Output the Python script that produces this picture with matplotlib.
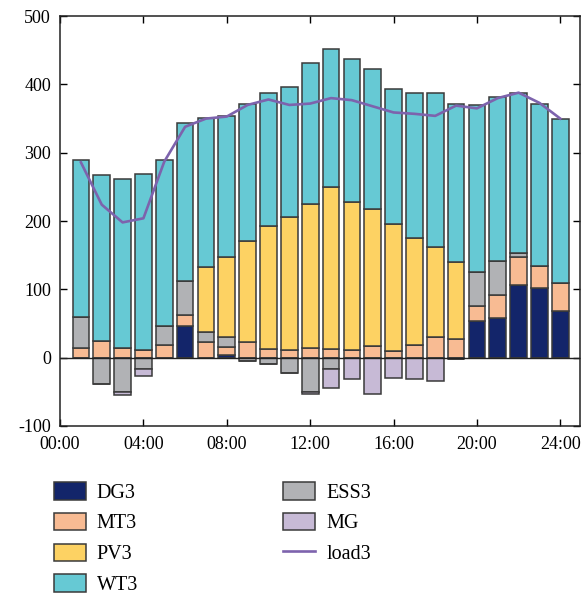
import matplotlib
matplotlib.use("Agg")
import matplotlib.pyplot as plt
import numpy as np

plt.rcParams['font.family'] = ['Liberation Serif', 'DejaVu Serif']
plt.rcParams['axes.unicode_minus'] = False

# hourly dispatch of microgrid 3 (kW)
hours = np.arange(1, 25)
DG3 = [0, 0, 0, 0, 0, 46, 0, 4, 0, 0, 0, 0, 0, 0, 0, 0, 0, 0, 0, 53, 58, 107, 102, 68]
MT3 = [14, 24, 14, 11, 19, 16, 23, 12, 23, 12, 11, 14, 13, 11, 17, 10, 19, 30, 27, 22, 33, 41, 32, 41]
ESS3 = [45, -38, -50, -16, 27, 50, 14, 14, -5, -10, -23, -50, -17, 0, 0, 0, 0, 0, -2, 50, 50, 5, 0, 0]
PV3 = [0, 0, 0, 0, 0, 0, 96, 118, 148, 180, 195, 211, 237, 217, 201, 185, 156, 132, 113, 0, 0, 0, 0, 0]
WT3 = [231, 243, 248, 258, 243, 231, 218, 206, 201, 196, 190, 207, 202, 209, 204, 199, 212, 225, 231, 245, 240, 234, 238, 240]
MG = [0, 0, -5, -11, 0, 0, 0, 0, 0, 0, 0, -4, -28, -32, -54, -30, -32, -34, 0, 0, 0, 0, 0, 0]
load3 = [286, 224, 198, 204, 287, 338, 350, 353, 370, 378, 370, 372, 380, 377, 368, 359, 357, 354, 369, 365, 380, 388, 373, 350]

tick_pos = [0, 4, 8, 12, 16, 20, 24]
tick_lab = ['00:00', '04:00', '08:00', '12:00', '16:00', '20:00', '24:00']

colors = {'DG3': '#13256a', 'MT3': '#f8bb93', 'PV3': '#fdd263', 'WT3': '#66c9d4',
          'ESS3': '#b1b2b5', 'MG': '#c7bad6'}

dg = np.array(DG3, float)
mt = np.array(MT3, float)
ess = np.array(ESS3, float)
pv = np.array(PV3, float)
wt = np.array(WT3, float)
mg = np.array(MG, float)

ess_pos = np.clip(ess, 0, None)
ess_neg = np.clip(ess, None, 0)

fig = plt.figure(figsize=(5.83, 5.99), dpi=100)
ax = fig.add_axes([0.103, 0.289, 0.892, 0.684])

w = 0.8
kw = dict(width=w, edgecolor='#3a3a3a', linewidth=1.1, zorder=2)
h_dg = ax.bar(hours, dg, color=colors['DG3'], label='DG3', **kw)
h_mt = ax.bar(hours, mt, bottom=dg, color=colors['MT3'], label='MT3', **kw)
h_ess = ax.bar(hours, ess, bottom=np.where(ess >= 0, dg + mt, 0), color=colors['ESS3'], label='ESS3', **kw)
h_pv = ax.bar(hours, pv, bottom=dg + mt + ess_pos, color=colors['PV3'], label='PV3', **kw)
h_wt = ax.bar(hours, wt, bottom=dg + mt + ess_pos + pv, color=colors['WT3'], label='WT3', **kw)
h_mg = ax.bar(hours, mg, bottom=ess_neg, color=colors['MG'], label='MG', **kw)
h_load, = ax.plot(hours, load3, color='#7d63ad', linewidth=1.9, zorder=4, label='load3')
ax.axhline(0, color='#222222', linewidth=1.0, zorder=3)

ax.set_xlim(0, 24.95)
ax.set_ylim(-100, 500)
ax.set_xticks(tick_pos)
ax.set_xticklabels(tick_lab)
ax.set_yticks(np.arange(-100, 501, 100))
ax.tick_params(direction='in', top=True, right=True, length=5, width=1, labelsize=13)
ax.tick_params(axis='x', pad=7.5)
ax.tick_params(axis='y', pad=6.5)
for s in ax.spines.values():
    s.set_color('#222222')
    s.set_linewidth(1.1)

handles = [h_dg, h_mt, h_pv, h_wt, h_ess, h_mg, h_load]
fig.legend(handles=handles, labels=[h.get_label() for h in handles],
           loc='upper left', bbox_to_anchor=(0.092, 0.195), ncol=2, frameon=False,
           fontsize=14.5, handlelength=1.6, handleheight=0.95, handletextpad=0.55,
           labelspacing=0.5, columnspacing=7.2, borderpad=0, borderaxespad=0)

fig.savefig('out.png', dpi=100)
